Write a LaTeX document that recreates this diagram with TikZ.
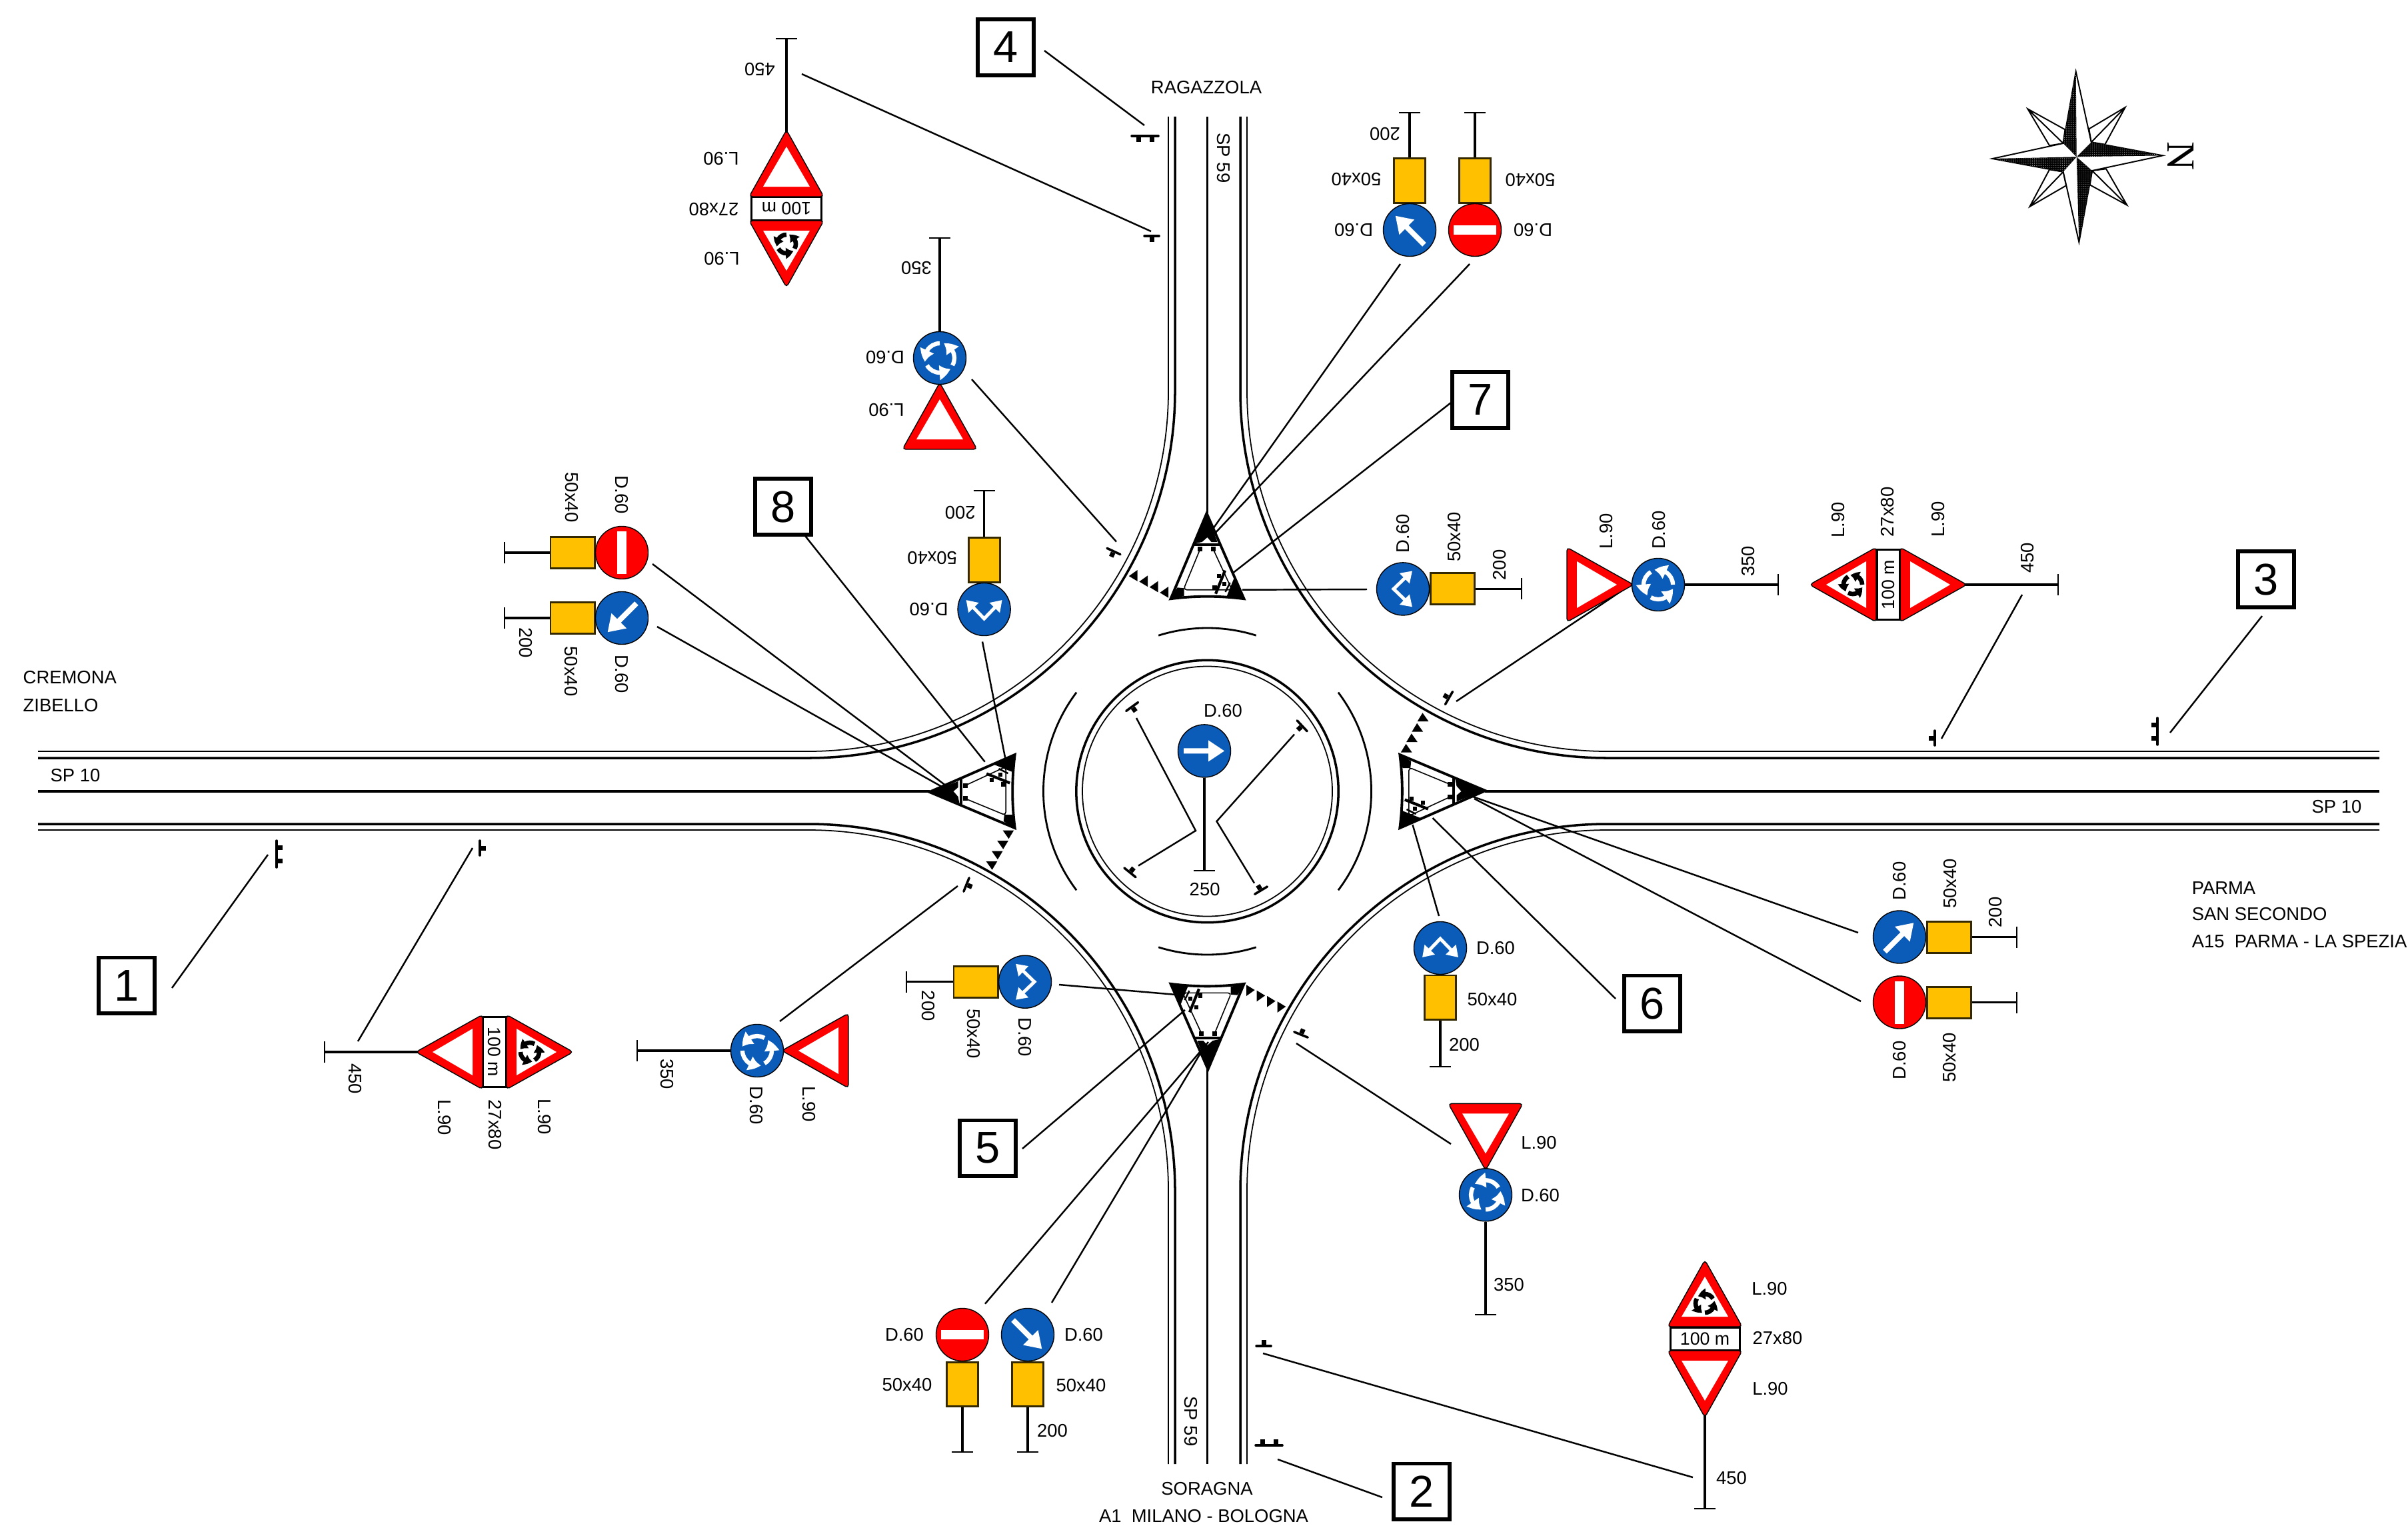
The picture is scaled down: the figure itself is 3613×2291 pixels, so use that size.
\documentclass[tikz,border=0pt]{standalone}
\usepackage{fontspec}
\setmainfont{Liberation Sans}
\newfontfamily\compassfont{Liberation Serif}
\usetikzlibrary{arrows.meta,bending,patterns.meta}
\definecolor{signblue}{HTML}{0A5CB8}
\definecolor{signyellow}{HTML}{FFC000}
\definecolor{panelrim}{HTML}{332800}
\tikzset{
	roadthick/.style={line width=1pt},
	roadthin/.style={line width=.5pt},
	roadmid/.style={line width=1pt},
	leader/.style={line width=.7pt},
	pole/.style={line width=1pt,-{Bar[width=9.1pt,line width=.55pt]}},
	symbar/.style={line width=1pt,line cap=round},
	discblue/.style={transform shape,circle,draw=black,line width=.4pt,fill=signblue,minimum size=.79cm,inner sep=0pt},
	discred/.style={discblue,fill=red},
	panel/.style={transform shape,rectangle,draw=panelrim,line width=.85pt,fill=signyellow,minimum width=.47cm,minimum height=.66cm,inner sep=0pt},
	plate/.style={transform shape,rectangle,draw=black,line width=.85pt,fill=white,font=\fontsize{7.6}{9}\selectfont,minimum width=1.04cm,minimum height=.34cm,inner sep=0pt},
	signlabel/.style={transform shape,inner sep=0pt,font=\fontsize{7.8}{9}\selectfont},
	placelabel/.style={inner sep=0pt,font=\fontsize{7.8}{9}\selectfont},
	numbox/.style={rectangle,draw=black,line width=1.7pt,fill=white,minimum width=.84cm,minimum height=.83cm,inner sep=0pt,font=\fontsize{19}{22}\selectfont},
	redtri/.style={fill=red,draw=black,line width=.4pt,rounded corners=.05cm},
}
% colour, radius, line width, head length, head width
\newcommand\roundglyph[5]{
	\foreach \turn in {0,120,240}
		\draw[#1,line width=#3,-{Triangle[length=#4,width=#5,bend]}] ({-30-\turn}:#2) arc[start angle={-30-\turn},end angle={-135-\turn},radius=#2];
}
\newcommand\chevron{
	\draw[white,line width=1.4pt,{Triangle[length=4.6pt,width=5.8pt]}-{Triangle[length=4.6pt,width=5.8pt]}] (-27,14) -- (0,-14) -- (27,14);
}
\newcommand\straightarrow{
	\fill[white] (-31,-4) -- (6,-4) -- (6,-16) -- (30,0) -- (6,16) -- (6,4) -- (-31,4) -- cycle;
}
% base y, sign of the direction
\newcommand\yieldtri[2]{
	\draw[redtri] (-56,#1) -- (56,#1) -- (0,{#1+#2*100}) -- cycle;
	\fill[white] (-35,{#1+#2*15}) -- (35,{#1+#2*15}) -- (0,{#1+#2*75}) -- cycle;
}
\newcommand\symone[2]{
	\begin{scope}[shift={(#1)},rotate=#2]
		\draw[symbar] (-11,0) -- (11,0);
		\fill (-3.5,-9) rectangle (3.5,-2);
	\end{scope}
}
\newcommand\symtwo[2]{
	\begin{scope}[shift={(#1)},rotate=#2]
		\draw[symbar] (-20,0) -- (20,0);
		\fill (-13.5,-9) rectangle (-6.5,-2);
		\fill (6.5,-9) rectangle (13.5,-2);
	\end{scope}
}
% no entry and arrow side by side
\newcommand\pairsign[3]{
	\begin{scope}[shift={(#2)},rotate=#3]
		\coordinate (#1-fa) at (-49,177);
		\coordinate (#1-fb) at (49,177);
		\node[panel] (#1-pa) at (-49,74) {};
		\node[panel] (#1-pb) at (49,74) {};
		\draw[pole] (#1-pa.south) -- (#1-fa);
		\draw[pole] (#1-pb.south) -- (#1-fb);
		\node[discred] (#1-da) at (-49,0) {};
		\fill[white] (-81,-7) rectangle (-17,7);
		\node[discblue] (#1-db) at (49,0) {};
		\begin{scope}[shift={(49,0)},rotate=-45]
			\straightarrow
		\end{scope}
		\node[signlabel] (#1-l1) at (-136,0) {D.60};
		\node[signlabel] (#1-l2) at (-132,75) {50x40};
		\node[signlabel] (#1-l3) at (133,0) {D.60};
		\node[signlabel] (#1-l4) at (129,76) {50x40};
		\node[signlabel] (#1-l5) at (86,144) {200};
	\end{scope}
}
% two way arrow on a panel
\newcommand\forksign[3]{
	\begin{scope}[shift={(#2)},rotate=#3]
		\coordinate (#1-f) at (0,179);
		\node[panel] (#1-p) at (0,74) {};
		\draw[pole] (#1-p.south) -- (#1-f);
		\node[discblue] (#1-d) at (0,0) {};
		\chevron
		\node[signlabel] (#1-l1) at (83,0) {D.60};
		\node[signlabel] (#1-l2) at (78,77) {50x40};
		\node[signlabel] (#1-l3) at (36,145) {200};
	\end{scope}
}
% yield over roundabout
\newcommand\yieldsign[3]{
	\begin{scope}[shift={(#2)},rotate=#3]
		\coordinate (#1-f) at (0,181);
		\node[discblue] (#1-d) at (0,0) {};
		\draw[pole] (#1-d.south) -- (#1-f);
		\yieldtri{-137}{1}
		\roundglyph{white}{22}{1.8pt}{5pt}{6pt}
		\node[signlabel] (#1-l1) at (80,-78) {L.90};
		\node[signlabel] (#1-l2) at (82,1) {D.60};
		\node[signlabel] (#1-l3) at (35,135) {350};
	\end{scope}
}
% danger triangle, plate, yield
\newcommand\platesign[3]{
	\begin{scope}[shift={(#2)},rotate=#3]
		\coordinate (#1-t) at (0,114);
		\coordinate (#1-f) at (0,256);
		\draw[pole] (#1-t) -- (#1-f);
		\node[plate] (#1-p) at (0,0) {100 m};
		\yieldtri{-18}{-1}
		\begin{scope}[shift={(0,-53)}]
			\roundglyph{black}{14}{1.9pt}{3.4pt}{4.6pt}
		\end{scope}
		\yieldtri{18}{1}
		\node[signlabel] (#1-l1) at (97,-75) {L.90};
		\node[signlabel] (#1-l2) at (109,-1) {27x80};
		\node[signlabel] (#1-l3) at (98,75) {L.90};
		\node[signlabel] (#1-l4) at (40,209) {450};
	\end{scope}
}
\begin{document}
\begin{tikzpicture}[x=.01cm,y=-.01cm]
	\useasboundingbox (0,0) rectangle (3613,2291);
	% roads
	\foreach \ca/\cb/\ea/\eb in {1763/1137/57/175,1861/1137/3570/175,1763/1236/57/2196,1861/1236/3570/2196}
		\draw[roadthick,rounded corners=5.5cm] (\ea,\cb) -- (\ca,\cb) -- (\ca,\eb);
	\foreach \ca/\cb/\ea/\eb in {1753/1127/57/175,1871/1127/3570/175,1753/1245/57/2196,1871/1245/3570/2196}
		\draw[roadthin,rounded corners=5.4cm] (\ea,\cb) -- (\ca,\cb) -- (\ca,\eb);
	\draw[roadmid] (57,1187) -- (1395,1187);
	\draw[roadmid] (2228,1187) -- (3570,1187);
	\draw[roadmid] (1811.5,175) -- (1811.5,770);
	\draw[roadmid] (1811.5,1604) -- (1811.5,2196);
	% central island
	\begin{scope}[shift={(1811.5,1187)}]
		\draw[line width=1pt] (0,0) circle[radius=196.7];
		\draw[roadthin] (0,0) circle[radius=187.5];
		\draw[line width=.8pt] (-73.3,233.8) arc[start angle=107.4,end angle=72.6,radius=245];
		\draw[line width=.8pt] (-73.3,-233.8) arc[start angle=-107.4,end angle=-72.6,radius=245];
		\draw[line width=.8pt] (-196.4,-148.4) arc[start angle=-143,end angle=-217,radius=246.5];
		\draw[line width=.8pt] (196.4,-148.4) arc[start angle=-37,end angle=37,radius=246.5];
	\end{scope}
	% splitter islands
	\foreach \rot in {0,90,180,270} {
		\begin{scope}[shift={(1811.5,1187)},rotate=\rot]
			\draw[line width=1.1pt,line join=miter] (-55,288.8) .. controls (-18,293.5) and (18,293.5) .. (55,288.8) -- (1,417) -- cycle;
			\fill (1,417) -- (-15,374) -- (-6,374) -- (0,381) -- (8,374) -- (18,372) -- cycle;
			\fill (56,288.3) -- (35,293) -- (35,304.7) -- (45,305.7) -- cycle;
			\fill (-55,288.3) -- (-29,292.3) -- (-40,319.7) -- cycle;
			\draw[line width=.45pt,rounded corners=.05cm] (-9.8,361) -- (-37,302.3) -- (36,302.3) -- (11.8,361);
			\draw[line width=1.2pt] (-19,369.7) -- (21,369.7);
			\fill (-12.3,360) rectangle (-5.3,367);
			\fill (7.3,360) rectangle (14.3,367);
			\draw[line width=1.2pt] (-12.5,296.3) -- (-26.5,331.3);
			\draw[line width=.7pt] (-27,299) -- (-34,313);
			\fill (-14,303) rectangle (-7.5,309.5);
			\fill (-20,320.5) rectangle (-14,326.5);
			\fill (-28.5,308) rectangle (-22.5,314);
			\foreach \k in {0,1,2,3}
				\fill[shift={(15.5*\k,8.3*\k)}] (58.5,290.3) -- (71.2,298) -- (58.5,307) -- cycle;
		\end{scope}
	}
	% small signs drawn on the plan
	\symtwo{415,1281}{270}
	\symone{720,1272}{270}
	\symtwo{1904,2168}{0}
	\symone{1896,2019}{0}
	\symtwo{3237,1097}{90}
	\symone{2903,1107}{90}
	\symtwo{1718,204}{180}
	\symone{1728,354}{180}
	\symone{1671,827}{155}
	\symone{2174,1047}{60}
	\symone{1450,1327}{248}
	\symone{1952,1552}{-22}
	\symone{1698.6,1060}{216}
	\symone{1953.7,1088.8}{133}
	\symone{1695.4,1308.8}{-39}
	\symone{1892,1335.6}{31}
	% leaders
	\foreach \id/\ax/\ay/\bx/\by in {
		a/258/1482/402/1282,b/2074/2246/1917/2189,c/3394/924/3256/1099,d/1567/76/1717/188,
		e/1534/1723/1778/1515,f/2424/1498/2149.5/1227,g/2177/604/1848.5/860.5,h/1205/800/1477.7/1142.7,
		i/537/1562/709/1272,j/2540/2216/1895/2030,k/3034/892/2913/1108,l/1203/111/1727/347,
		m/1170/1532/1437/1329,n/2177/1716/1945/1565,o/2477/857/2185/1052,p/1458/569/1675/812.6,
		q/1478/1955.7/1813/1563,r/1578/1954/1807/1570,s/1589/1477/1765/1492,t/2159/1374/2119.5/1237,
		u/2051/884/1864/884.7,v/1474/962.5/1509/1141,w/2788/1399/2193/1189,x/2792/1502/2212/1198,
		y/2101/396/1820/793,z/2205/396/1820/803,aa/979/846/1428/1185,ab/986/940/1413/1180} {
		\coordinate (\id-a) at (\ax,\ay);
		\coordinate (\id-b) at (\bx,\by);
		\draw[leader] (\id-a) -- (\id-b);
	}
	\coordinate (bend1) at (1794,1246);
	\coordinate (bend2) at (1825.5,1232);
	\coordinate (ring1) at (1705,1077);
	\coordinate (ring2) at (1708,1298.6);
	\coordinate (ring3) at (1942,1101.5);
	\coordinate (ring4) at (1882,1324.7);
	\draw[leader] (ring1) -- (bend1) -- (ring2);
	\draw[leader] (ring3) -- (bend2) -- (ring4);
	% central sign
	\coordinate (midfoot) at (1807,1307);
	\node[discblue] (middisc) at (1807,1126.4) {};
	\draw[pole] (middisc.south) -- (midfoot);
	\begin{scope}[shift={(1807,1126.4)}]
		\straightarrow
	\end{scope}
	\node[signlabel] (midl1) at (1835,1066) {D.60};
	\node[signlabel] (midl2) at (1807.6,1334) {250};
	% signs at the four arms
	\pairsign{pairS}{1493,2002}{0}
	\pairsign{pairE}{2850,1454.5}{90}
	\pairsign{pairN}{2164,345}{180}
	\pairsign{pairW}{933,878}{270}
	\forksign{forkS}{2161,1422}{0}
	\forksign{forkE}{2105,883.4}{90}
	\forksign{forkN}{1476.6,914}{180}
	\forksign{forkW}{1538,1472.7}{270}
	\yieldsign{yieldS}{2229,1792.3}{0}
	\yieldsign{yieldE}{2488,877}{90}
	\yieldsign{yieldN}{1410,537}{180}
	\yieldsign{yieldW}{1136,1576}{270}
	\platesign{plateS}{2558,2008}{0}
	\platesign{plateE}{2833,877}{90}
	\platesign{plateN}{1180,313}{180}
	\platesign{plateW}{742,1578}{270}
	% numbers
	\node[numbox] (box1) at (190,1478) {1};
	\node[numbox] (box2) at (2133,2237) {2};
	\node[numbox] (box3) at (3400,869) {3};
	\node[numbox] (box4) at (1509,71) {4};
	\node[numbox] (box5) at (1482,1722) {5};
	\node[numbox] (box6) at (2479,1505) {6};
	\node[numbox] (box7) at (2221,600) {7};
	\node[numbox] (box8) at (1175,760) {8};
	% place names
	\node[placelabel] (ragazzola) at (1810,131) {RAGAZZOLA};
	\node[placelabel,rotate=-90] (sp59n) at (1836,237) {SP 59};
	\node[placelabel,rotate=-90] (sp59s) at (1787,2132) {SP 59};
	\node[placelabel] (sp10w) at (113,1163) {SP 10};
	\node[placelabel] (sp10e) at (3506,1210) {SP 10};
	\node[placelabel,anchor=west] (cremona) at (34,1016) {CREMONA};
	\node[placelabel,anchor=west] (zibello) at (34,1058) {ZIBELLO};
	\node[placelabel,anchor=west] (parma) at (3288,1332) {PARMA};
	\node[placelabel,anchor=west] (secondo) at (3288,1371) {SAN SECONDO};
	\node[placelabel,anchor=west] (spezia) at (3288,1412) {A15~~PARMA - LA SPEZIA};
	\node[placelabel] (soragna) at (1811,2233) {SORAGNA};
	\node[placelabel] (milano) at (1806,2274) {A1~~MILANO - BOLOGNA};
	% compass
	\begin{scope}[shift={(2950,80)},scale=1/3,line width=.55pt,line join=miter]
		\draw[fill=white] (277,250) -- (445,343) -- (437,405) -- (375,415) -- cycle (277,250) -- (437,405);
		\draw[fill=white] (716,243) -- (553,340) -- (563,400) -- (625,410) -- cycle (716,243) -- (563,400);
		\draw[fill=white] (724,683) -- (557,592) -- (567,528) -- (630,520) -- cycle (724,683) -- (567,528);
		\draw[fill=white] (286,690) -- (450,595) -- (437,533) -- (375,523) -- cycle (286,690) -- (437,533);
		\draw[fill=white] (494,82) -- (563,400) -- (885,460) -- (567,528) -- (508,850) -- (437,533) -- (118,474) -- (437,405) -- cycle;
		\foreach \tipx/\tipy/\sidex/\sidey in {494/82/437/405,885/460/563/400,508/850/567/528,118/474/437/533} {
			\fill (497,466) -- (\tipx,\tipy) -- (\sidex,\sidey) -- cycle;
			\fill[pattern={Dots[distance=.8pt,radius=.12pt]},pattern color=white] (497,466) -- (\tipx,\tipy) -- (\sidex,\sidey) -- cycle;
		}
	\end{scope}
	\node[inner sep=0pt,rotate=-90,font=\compassfont\fontsize{17}{20}\selectfont] (north) at (3272,234) {N};
\end{tikzpicture}
\end{document}
